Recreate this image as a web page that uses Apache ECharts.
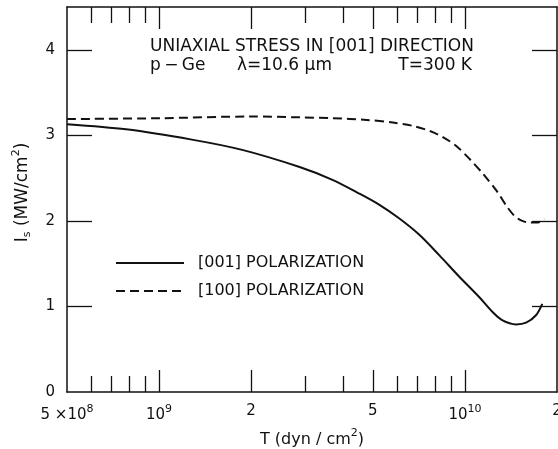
<!DOCTYPE html>
<html><head><meta charset="utf-8">
<script src="https://cdn.jsdelivr.net/npm/echarts@6/dist/echarts.min.js"></script>
<style>html,body{margin:0;padding:0;background:#fff}#c{width:558px;height:449px}</style>
</head><body><div id="c"></div>
<script>
// ---- data ----
const stress001 = [5e8, 7.8e8, 1.28e9, 1.87e9, 2.88e9, 3.69e9, 4.51e9, 5.24e9, 6.09e9, 7.08e9, 8.24e9, 9.57e9, 1.113e10, 1.227e10, 1.323e10, 1.47e10, 1.585e10, 1.71e10, 1.79e10];
const intensity001 = [3.13, 3.07, 2.95, 2.83, 2.63, 2.48, 2.32, 2.19, 2.03, 1.84, 1.60, 1.35, 1.11, 0.94, 0.84, 0.79, 0.81, 0.90, 1.03];
const stress100 = [5e8, 1e9, 2e9, 2.88e9, 3.69e9, 4.77e9, 5.81e9, 6.76e9, 7.68e9, 8.47e9, 9.41e9, 1.038e10, 1.146e10, 1.27e10, 1.37e10, 1.45e10, 1.52e10, 1.62e10, 1.72e10, 1.82e10];
const intensity100 = [3.19, 3.20, 3.22, 3.21, 3.20, 3.18, 3.15, 3.11, 3.05, 2.98, 2.87, 2.72, 2.55, 2.35, 2.17, 2.06, 2.01, 1.98, 1.98, 2.02];
const seriesNames = ['[001] POLARIZATION', '[100] POLARIZATION'];
const xLabelValues = [5e8, 1e9, 2e9, 5e9, 1e10, 2e10];
const xLabelTexts = ['5 \u00d710{sup|8}', '10{sup|9}', '2', '5', '10{sup|10}', '2'];
const xMinorTicks = [6e8, 7e8, 8e8, 9e8, 3e9, 4e9, 6e9, 7e9, 8e9, 9e9];
const xMajorTicks = [1e9, 2e9, 5e9, 1e10];
const yLabelValues = [0, 1, 2, 3, 4];
const yTickValues = [1, 2, 3, 4];
const titleLine1 = 'UNIAXIAL STRESS IN [001] DIRECTION';
const titleLine2 = ['p\u2009\u2212\u2009Ge', '\u03bb=10.6 \u03bcm', 'T=300 K'];
const xName = 'T (dyn / cm{sup|2})';
const yName = 'I{sub|s} (MW/cm{sup|2})';

// ---- styling ----
const FONT = 'DejaVu Sans';
const INK = '#111';
const chart = echarts.init(document.getElementById('c'), null, {renderer: 'canvas'});

function xLabelFor(v) {
  for (let i = 0; i < xLabelValues.length; i++) {
    if (Math.abs(Math.log10(v) - Math.log10(xLabelValues[i])) < 1e-6) return xLabelTexts[i];
  }
  return '';
}
const supRich = {
  sup: {fontFamily: FONT, fontSize: 11, color: INK, padding: [0, 0, 12, 0]},
  sub: {fontFamily: FONT, fontSize: 11, color: INK, padding: [9, 0, 0, 0]}
};
function xAxisDef(position, ticks, len, showLine, showLabel) {
  const ax = {
    type: 'log', logBase: 10, min: 5e8, max: 2e10, position: position,
    axisLine: {show: showLine, lineStyle: {color: INK, width: 1.5}},
    axisTick: {show: true, inside: true, length: len, customValues: ticks, lineStyle: {color: INK, width: 1.3}},
    axisLabel: {show: false},
    splitLine: {show: false}, minorTick: {show: false}, minorSplitLine: {show: false}
  };
  if (showLabel) {
    ax.axisLabel = {
      show: true, customValues: xLabelValues, margin: 12,
      fontFamily: FONT, fontSize: 15, color: INK,
      formatter: function (v) { return xLabelFor(v); },
      rich: supRich
    };
    ax.name = xName;
    ax.nameLocation = 'middle';
    ax.nameGap = 34;
    ax.nameTextStyle = {fontFamily: FONT, fontSize: 16, color: INK, rich: supRich};
  }
  return ax;
}
function yAxisDef(position, showLabel) {
  const ax = {
    type: 'value', min: 0, max: 4.5, position: position,
    axisLine: {show: true, lineStyle: {color: INK, width: 1.5}},
    axisTick: {show: true, inside: true, length: 25, customValues: yTickValues, lineStyle: {color: INK, width: 1.3}},
    axisLabel: {show: false},
    splitLine: {show: false}
  };
  if (showLabel) {
    ax.axisLabel = {show: true, customValues: yLabelValues, margin: 12, fontFamily: FONT, fontSize: 15, color: INK};
    ax.name = yName;
    ax.nameLocation = 'middle';
    ax.nameRotate = 90;
    ax.nameGap = 33;
    ax.nameTextStyle = {fontFamily: FONT, fontSize: 17, color: INK, rich: supRich, padding: [0, 0, 0, 14]};
  }
  return ax;
}

chart.setOption({
  animation: false,
  backgroundColor: '#fff',
  grid: {left: 67, right: 1, top: 7, bottom: 57, containLabel: false, outerBoundsMode: 'none'},
  xAxis: [
    xAxisDef('bottom', xMinorTicks, 16, true, true),
    xAxisDef('bottom', xMajorTicks, 22, false, false),
    xAxisDef('top', xMinorTicks, 16, true, false),
    xAxisDef('top', xMajorTicks, 22, false, false)
  ],
  yAxis: [yAxisDef('left', true), yAxisDef('right', false)],
  legend: {
    orient: 'vertical', left: 115, top: 255, padding: 0, itemWidth: 68, itemHeight: 14, itemGap: 12,
    data: seriesNames,
    itemStyle: {opacity: 0},
    textStyle: {fontFamily: FONT, fontSize: 16, color: INK, padding: [0, 0, 0, 9]}
  },
  graphic: [
    {type: 'text', x: 150, y: 47, style: {text: titleLine1, font: '17px "DejaVu Sans"', fill: INK, verticalAlign: 'middle'}},
    {type: 'text', x: 150, y: 66, style: {text: titleLine2[0], font: '17px "DejaVu Sans"', fill: INK, verticalAlign: 'middle'}},
    {type: 'text', x: 237, y: 66, style: {text: titleLine2[1], font: '17px "DejaVu Sans"', fill: INK, verticalAlign: 'middle'}},
    {type: 'text', x: 472, y: 66, style: {text: titleLine2[2], font: '17px "DejaVu Sans"', fill: INK, verticalAlign: 'middle', align: 'right'}}
  ],
  series: [
    {
      name: seriesNames[0], type: 'line', xAxisIndex: 0, yAxisIndex: 0,
      data: stress001.map((x, i) => [x, intensity001[i]]),
      showSymbol: false, symbol: 'none', smooth: 0.3,
      lineStyle: {color: INK, width: 2}, itemStyle: {color: INK}
    },
    {
      name: seriesNames[1], type: 'line', xAxisIndex: 0, yAxisIndex: 0,
      data: stress100.map((x, i) => [x, intensity100[i]]),
      showSymbol: false, symbol: 'none', smooth: 0.3,
      lineStyle: {color: INK, width: 2, type: [9, 5]}, itemStyle: {color: INK}
    }
  ]
});
</script></body></html>
